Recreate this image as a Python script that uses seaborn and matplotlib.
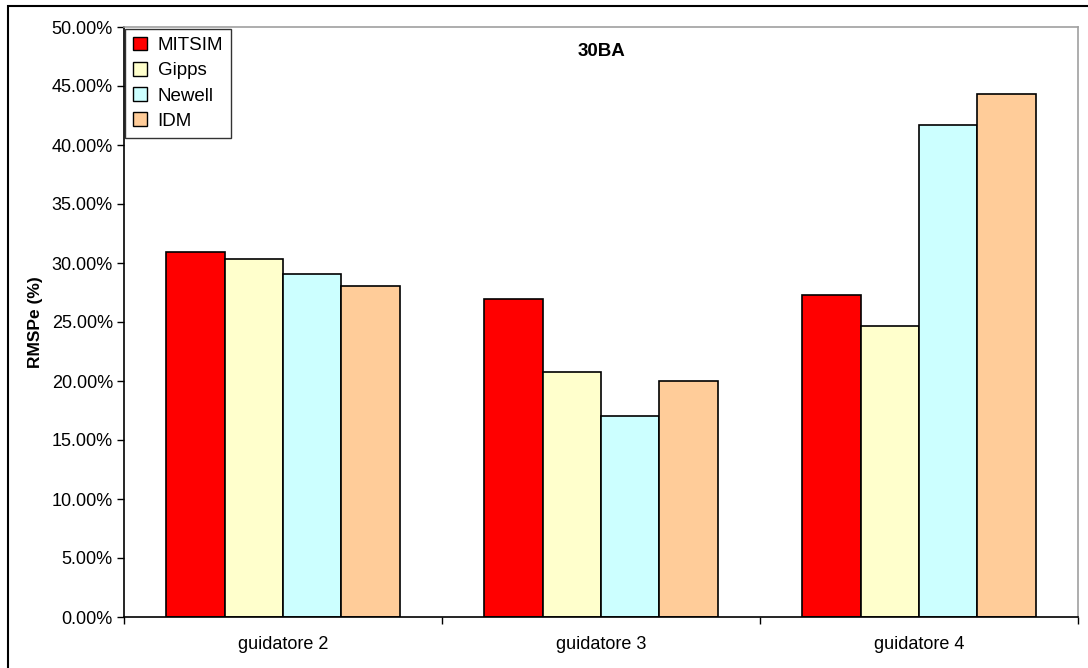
import matplotlib
matplotlib.use("Agg")
import matplotlib.pyplot as plt
import matplotlib.patches as mpatches
from matplotlib.ticker import PercentFormatter, FixedLocator
import pandas as pd
import seaborn as sns

# data
drivers = ["guidatore 2", "guidatore 3", "guidatore 4"]
models = ["MITSIM", "Gipps", "Newell", "IDM"]
mitsim = [30.96, 26.98, 27.29]
gipps = [30.37, 20.76, 24.69]
newell = [29.04, 17.06, 41.69]
idm = [28.05, 20.03, 44.30]
colors = ["#ff0000", "#ffffcc", "#ccffff", "#ffcc99"]

rows = []
for m, vals in zip(models, [mitsim, gipps, newell, idm]):
    for d, v in zip(drivers, vals):
        rows.append({"driver": d, "model": m, "value": v})
df = pd.DataFrame(rows)

sns.set_style("white")
plt.rcParams["font.family"] = ["Liberation Sans", "DejaVu Sans"]
plt.rcParams["text.color"] = "black"
plt.rcParams["axes.labelcolor"] = "black"
plt.rcParams["xtick.color"] = "black"
plt.rcParams["ytick.color"] = "black"

W, H = 1088, 668
fig = plt.figure(figsize=(W / 100, H / 100), dpi=100)
ax = fig.add_axes([124 / W, (H - 617) / H, (1078 - 124) / W, 590 / H])

sns.barplot(data=df, x="driver", y="value", hue="model", order=drivers,
            hue_order=models, palette=colors, width=0.733, gap=0,
            edgecolor="black", linewidth=1.2, saturation=1, ax=ax, legend=False)

ax.set_xlim(-0.5, 2.5)
ax.set_ylim(0, 50)
ax.set_yticks(range(0, 51, 5))
ax.yaxis.set_major_formatter(PercentFormatter(decimals=2))
ax.tick_params(axis="y", direction="out", length=5, width=1,
               labelsize=13, pad=3, left=True)
ax.xaxis.set_minor_locator(FixedLocator([-0.5, 0.5, 1.5, 2.5]))
ax.tick_params(axis="x", which="major", length=0, labelsize=13, pad=14)
ax.tick_params(axis="x", which="minor", direction="out", length=5, width=1,
               bottom=True)
ax.set_xlabel("")
ax.set_ylabel("RMSPe (%)", fontsize=12.5, fontweight="bold", labelpad=6)
ax.grid(False)

for s in ["left", "bottom"]:
    ax.spines[s].set_color("black")
    ax.spines[s].set_linewidth(1.2)
for s in ["top", "right"]:
    ax.spines[s].set_color("#a0a0a0")
    ax.spines[s].set_linewidth(1.2)

ax.text(0.5, 0.958, "30BA", transform=ax.transAxes, ha="center", va="center",
        fontsize=13.5, fontweight="bold")

handles = [mpatches.Patch(facecolor=c, edgecolor="black", linewidth=1, label=m)
           for c, m in zip(colors, models)]
leg = ax.legend(handles=handles, loc="upper left", bbox_to_anchor=(0.0015, 0.997),
                fontsize=13.5, frameon=True, fancybox=False, handlelength=0.75,
                handleheight=0.75, handletextpad=0.55, labelspacing=0.42,
                borderpad=0.42, borderaxespad=0)
leg.get_frame().set_edgecolor("black")
leg.get_frame().set_linewidth(1)

fig.add_artist(mpatches.Rectangle((8 / W, -0.05), 1.1, (H - 6) / H + 0.05,
                                  transform=fig.transFigure, fill=False,
                                  edgecolor="black", linewidth=1.5))

fig.savefig("out.png", dpi=100)
